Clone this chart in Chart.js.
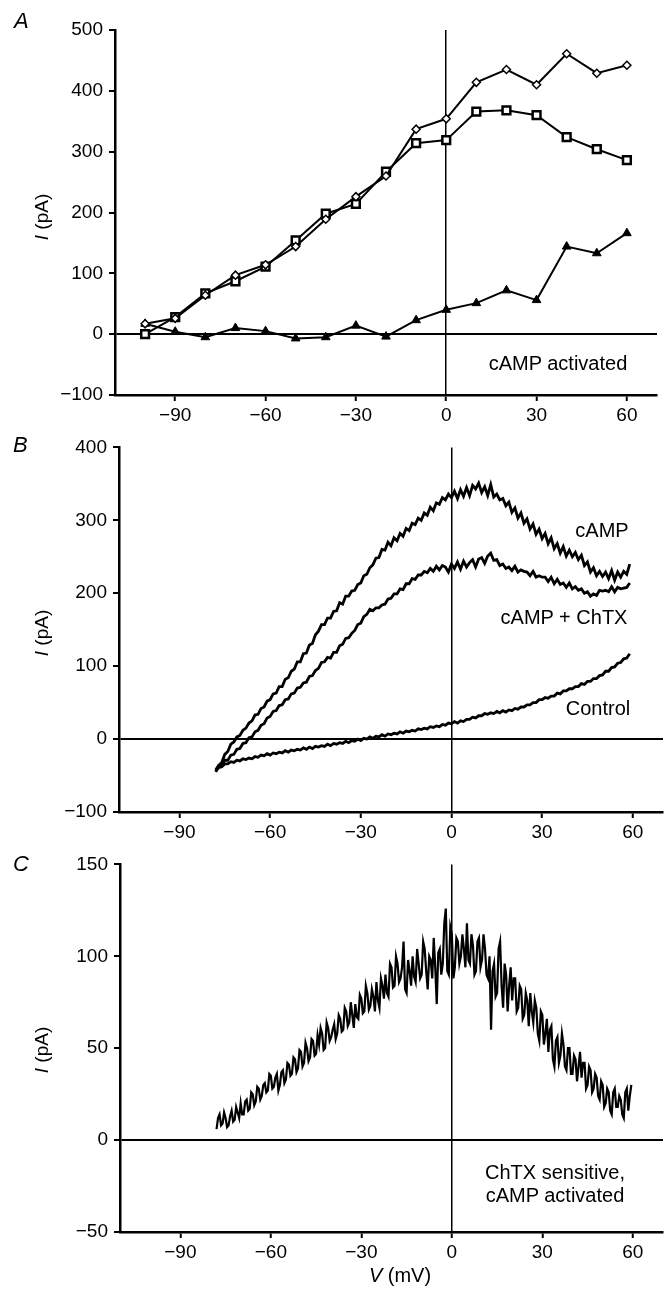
<!DOCTYPE html>
<html>
<head>
<meta charset="utf-8">
<script src="https://cdn.jsdelivr.net/npm/chart.js@4/dist/chart.umd.min.js"></script>
<style>
  body { margin: 0; background: #fff; }
  #fig { position: relative; width: 665px; height: 1290px; font-family: "Liberation Sans", Arial, sans-serif; color: #000; }
  canvas { position: absolute; left: 0; }
  .lbl { position: absolute; font-size: 20px; white-space: nowrap; transform: translate(-50%, -50%); }
  .panel { position: absolute; font-size: 22px; font-style: italic; }
  .ytitle { position: absolute; font-size: 19px; white-space: nowrap; transform: translate(-50%, -50%) rotate(-90deg); }
</style>
</head>
<body>
<div id="fig">
  <canvas id="chartA" width="665" height="430" style="top:0px"></canvas>
  <canvas id="chartB" width="665" height="417" style="top:430px"></canvas>
  <canvas id="chartC" width="665" height="443" style="top:847px"></canvas>

  <div class="panel" style="left:14px; top:8px">A</div>
  <div class="panel" style="left:13px; top:432px">B</div>
  <div class="panel" style="left:13px; top:851px">C</div>

  <div class="ytitle" style="left:42px; top:217px"><i>I</i> (pA)</div>
  <div class="ytitle" style="left:42px; top:633px"><i>I</i> (pA)</div>
  <div class="ytitle" style="left:42px; top:1050px"><i>I</i> (pA)</div>

  <div class="lbl" style="left:558px; top:363px">cAMP activated</div>
  <div class="lbl" style="left:602px; top:530px">cAMP</div>
  <div class="lbl" style="left:564px; top:617px">cAMP + ChTX</div>
  <div class="lbl" style="left:598px; top:708px">Control</div>
  <div class="lbl" style="left:555px; top:1172px">ChTX sensitive,</div>
  <div class="lbl" style="left:555px; top:1195px">cAMP activated</div>
  <div class="lbl" style="left:400px; top:1275px"><i>V</i> (mV)</div>
</div>

<script>
// panel A: step protocol, three series
var voltsA = [-100, -90, -80, -70, -60, -50, -40, -30, -20, -10, 0, 10, 20, 30, 40, 50, 60];
var iDiamond = [17, 26, 64, 97, 114, 144, 189, 226, 260, 337, 354, 414, 435, 410, 461, 429, 442];
var iSquare = [0, 28, 67, 87, 111, 154, 198, 214, 267, 314, 319, 366, 368, 360, 324, 304, 286];
var iTriangle = [17, 4, -5, 10, 5, -7, -5, 14, -4, 23, 40, 51, 72, 56, 144, 133, 166];

// panel B: ramp from -78 to 59 mV, 1 mV steps
var voltsB = [-78, -77, -76, -75, -74, -73, -72, -71, -70, -69,
  -68, -67, -66, -65, -64, -63, -62, -61, -60, -59,
  -58, -57, -56, -55, -54, -53, -52, -51, -50, -49,
  -48, -47, -46, -45, -44, -43, -42, -41, -40, -39,
  -38, -37, -36, -35, -34, -33, -32, -31, -30, -29,
  -28, -27, -26, -25, -24, -23, -22, -21, -20, -19,
  -18, -17, -16, -15, -14, -13, -12, -11, -10, -9,
  -8, -7, -6, -5, -4, -3, -2, -1, 0, 1,
  2, 3, 4, 5, 6, 7, 8, 9, 10, 11,
  12, 13, 14, 15, 16, 17, 18, 19, 20, 21,
  22, 23, 24, 25, 26, 27, 28, 29, 30, 31,
  32, 33, 34, 35, 36, 37, 38, 39, 40, 41,
  42, 43, 44, 45, 46, 47, 48, 49, 50, 51,
  52, 53, 54, 55, 56, 57, 58, 59];

var iCamp = [-45, -36, -32, -21, -17, -7, -4, 3, 5, 12,
  15, 22, 25, 33, 34, 42, 44, 52, 54, 62,
  63, 72, 72, 82, 84, 93, 96, 106, 106, 117,
  118, 129, 131, 143, 148, 157, 157, 166, 166, 175,
  176, 187, 185, 196, 196, 203, 204, 212, 214, 224,
  226, 235, 239, 248, 249, 260, 259, 270, 265, 276,
  272, 282, 278, 289, 286, 296, 294, 303, 300, 310,
  307, 318, 313, 324, 322, 331, 328, 336, 331, 340,
  330, 342, 333, 345, 334, 348, 343, 351, 338, 346,
  334, 349, 332, 336, 328, 330, 320, 325, 311, 317,
  303, 310, 296, 302, 288, 295, 281, 288, 275, 282,
  268, 276, 261, 268, 255, 264, 251, 259, 250, 256,
  246, 252, 238, 243, 229, 235, 224, 230, 223, 229,
  220, 231, 218, 229, 222, 230, 226, 240];

var iCampChtx = [-42, -36, -36, -29, -29, -22, -21, -14, -13, -6,
  -5, 2, 3, 10, 12, 19, 21, 29, 31, 38,
  39, 46, 47, 54, 55, 62, 63, 70, 71, 77,
  78, 86, 87, 94, 97, 105, 106, 112, 111, 119,
  119, 128, 130, 138, 139, 145, 149, 157, 159, 168,
  171, 178, 176, 180, 180, 184, 185, 192, 193, 199,
  199, 206, 205, 213, 213, 220, 219, 225, 225, 230,
  228, 234, 230, 237, 232, 238, 236, 229, 240, 234,
  243, 233, 244, 236, 242, 246, 236, 247, 249, 241,
  251, 255, 245, 246, 238, 240, 234, 236, 231, 237,
  229, 232, 230, 229, 224, 230, 222, 224, 222, 222,
  216, 222, 213, 219, 212, 214, 208, 214, 206, 209,
  204, 206, 200, 202, 196, 199, 197, 204, 203, 204,
  202, 209, 202, 208, 206, 207, 208, 214];

var iControl = [-44, -39, -38, -34, -34, -31, -32, -29, -30, -27,
  -28, -26, -27, -24, -25, -22, -23, -20, -22, -19,
  -20, -18, -19, -16, -18, -15, -16, -14, -15, -12,
  -14, -11, -13, -10, -11, -9, -10, -7, -9, -6,
  -7, -5, -6, -3, -5, -2, -3, 0, -2, 1,
  0, 3, 1, 4, 3, 6, 4, 7, 6, 8,
  7, 10, 8, 11, 10, 12, 11, 14, 13, 15,
  14, 17, 16, 18, 17, 20, 19, 22, 21, 24,
  22, 25, 24, 27, 27, 30, 29, 32, 32, 35,
  34, 36, 35, 38, 36, 39, 37, 40, 39, 42,
  41, 44, 44, 47, 47, 50, 50, 54, 54, 57,
  56, 59, 59, 63, 62, 66, 66, 69, 69, 72,
  72, 76, 75, 79, 79, 83, 83, 87, 88, 93,
  93, 98, 99, 104, 105, 110, 111, 117];

// panel C: difference trace, 0.5 mV steps
var voltsC = [-78, -77.5, -77, -76.5, -76, -75.5, -75, -74.5, -74, -73.5,
  -73, -72.5, -72, -71.5, -71, -70.5, -70, -69.5, -69, -68.5,
  -68, -67.5, -67, -66.5, -66, -65.5, -65, -64.5, -64, -63.5,
  -63, -62.5, -62, -61.5, -61, -60.5, -60, -59.5, -59, -58.5,
  -58, -57.5, -57, -56.5, -56, -55.5, -55, -54.5, -54, -53.5,
  -53, -52.5, -52, -51.5, -51, -50.5, -50, -49.5, -49, -48.5,
  -48, -47.5, -47, -46.5, -46, -45.5, -45, -44.5, -44, -43.5,
  -43, -42.5, -42, -41.5, -41, -40.5, -40, -39.5, -39, -38.5,
  -38, -37.5, -37, -36.5, -36, -35.5, -35, -34.5, -34, -33.5,
  -33, -32.5, -32, -31.5, -31, -30.5, -30, -29.5, -29, -28.5,
  -28, -27.5, -27, -26.5, -26, -25.5, -25, -24.5, -24, -23.5,
  -23, -22.5, -22, -21.5, -21, -20.5, -20, -19.5, -19, -18.5,
  -18, -17.5, -17, -16.5, -16, -15.5, -15, -14.5, -14, -13.5,
  -13, -12.5, -12, -11.5, -11, -10.5, -10, -9.5, -9, -8.5,
  -8, -7.5, -7, -6.5, -6, -5.5, -5, -4.5, -4, -3.5,
  -3, -2.5, -2, -1.5, -1, -0.5, 0, 0.5, 1, 1.5,
  2, 2.5, 3, 3.5, 4, 4.5, 5, 5.5, 6, 6.5,
  7, 7.5, 8, 8.5, 9, 9.5, 10, 10.5, 11, 11.5,
  12, 12.5, 13, 13.5, 14, 14.5, 15, 15.5, 16, 16.5,
  17, 17.5, 18, 18.5, 19, 19.5, 20, 20.5, 21, 21.5,
  22, 22.5, 23, 23.5, 24, 24.5, 25, 25.5, 26, 26.5,
  27, 27.5, 28, 28.5, 29, 29.5, 30, 30.5, 31, 31.5,
  32, 32.5, 33, 33.5, 34, 34.5, 35, 35.5, 36, 36.5,
  37, 37.5, 38, 38.5, 39, 39.5, 40, 40.5, 41, 41.5,
  42, 42.5, 43, 43.5, 44, 44.5, 45, 45.5, 46, 46.5,
  47, 47.5, 48, 48.5, 49, 49.5, 50, 50.5, 51, 51.5,
  52, 52.5, 53, 53.5, 54, 54.5, 55, 55.5, 56, 56.5,
  57, 57.5, 58, 58.5, 59, 59.5];

var iChtxSensitive = [6, 12, 14, 8, 9, 15, 12, 7, 8, 13,
  16, 10, 11, 18, 15, 12, 20, 14, 14, 21,
  22, 16, 17, 26, 25, 19, 21, 29, 28, 22,
  24, 30, 31, 26, 27, 36, 35, 28, 29, 34,
  36, 27, 30, 37, 38, 31, 33, 42, 41, 35,
  36, 45, 44, 37, 39, 49, 48, 40, 42, 53,
  50, 43, 45, 55, 54, 46, 47, 57, 52, 61,
  58, 49, 50, 64, 61, 54, 56, 60, 63, 55,
  58, 68, 66, 59, 60, 72, 70, 62, 64, 75,
  68, 61, 74, 67, 66, 79, 77, 69, 70, 84,
  80, 71, 73, 82, 78, 70, 86, 76, 72, 88,
  84, 77, 90, 80, 78, 96, 94, 83, 84, 100,
  96, 86, 88, 94, 108, 82, 80, 98, 92, 84,
  100, 89, 86, 104, 96, 88, 90, 108, 104, 92,
  82, 100, 98, 88, 110, 94, 74, 102, 104, 90,
  96, 118, 126, 92, 90, 116, 112, 88, 94, 110,
  108, 96, 100, 112, 104, 94, 118, 98, 96, 112,
  106, 90, 92, 108, 110, 94, 98, 112, 104, 90,
  88, 100, 60, 92, 96, 78, 80, 104, 108, 84,
  72, 96, 90, 70, 84, 94, 76, 88, 88, 70,
  72, 84, 82, 66, 68, 80, 76, 62, 80, 70,
  64, 76, 72, 58, 54, 70, 68, 52, 58, 66,
  48, 60, 62, 44, 40, 54, 56, 42, 46, 58,
  52, 40, 38, 50, 50, 36, 36, 46, 44, 32,
  40, 48, 34, 42, 42, 28, 30, 40, 38, 26,
  28, 36, 34, 24, 22, 32, 30, 18, 20, 28,
  26, 16, 14, 26, 28, 18, 18, 24, 22, 14,
  12, 26, 28, 16, 24, 30];

var xTicks = [-90, -60, -30, 0, 30, 60];
var yTicksA = [-100, 0, 100, 200, 300, 400, 500];
var yTicksB = [-100, 0, 100, 200, 300, 400];
var yTicksC = [-50, 0, 50, 100, 150];

function toPoints(xs, ys) {
  var out = [];
  for (var i = 0; i < xs.length; i++) {
    out.push({ x: xs[i], y: ys[i] });
  }
  return out;
}

function fmt(v) {
  return v < 0 ? '\u2212' + Math.abs(v) : '' + v;
}

// only the zero value gets a visible line across the plot
function zeroColor(ctx) {
  return ctx.tick && ctx.tick.value === 0 ? '#000' : 'rgba(0,0,0,0)';
}

var tickFont = { family: '"Liberation Sans", Arial, sans-serif', size: 19 };

function makePanel(id, datasets, cfg) {
  var ctx = document.getElementById(id).getContext('2d');
  return new Chart(ctx, {
    type: 'scatter',
    data: { datasets: datasets },
    options: {
      responsive: false,
      animation: false,
      events: [],
      layout: { padding: { left: 0, top: cfg.top, right: cfg.right, bottom: 0 } },
      plugins: { legend: { display: false }, tooltip: { enabled: false } },
      scales: {
        x: {
          type: 'linear',
          min: -110,
          max: 70,
          afterBuildTicks: function(scale) {
            scale.ticks = xTicks.map(function(v) { return { value: v }; });
          },
          afterFit: function(scale) { scale.height = cfg.xHeight; },
          border: { color: '#000', width: 2.5 },
          grid: { color: zeroColor, lineWidth: 1.5, tickColor: '#000', tickWidth: 2, tickLength: 6 },
          ticks: { color: '#000', font: tickFont, padding: 3, maxRotation: 0, autoSkip: false, callback: fmt }
        },
        y: {
          type: 'linear',
          min: cfg.yTicks[0],
          max: cfg.yTicks[cfg.yTicks.length - 1],
          afterBuildTicks: function(scale) {
            scale.ticks = cfg.yTicks.map(function(v) { return { value: v }; });
          },
          afterFit: function(scale) { scale.width = cfg.left; },
          border: { color: '#000', width: 2.5 },
          grid: { color: zeroColor, lineWidth: 2, tickColor: '#000', tickWidth: 2, tickLength: 6 },
          ticks: { color: '#000', font: tickFont, padding: 6, autoSkip: false, callback: fmt }
        }
      }
    }
  });
}

var lineBase = { showLine: true, borderColor: '#000', tension: 0, pointRadius: 0 };

makePanel('chartA', [
  Object.assign({}, lineBase, {
    data: toPoints(voltsA, iDiamond), borderWidth: 2,
    pointStyle: 'rectRot', pointRadius: 4, pointBackgroundColor: '#fff',
    pointBorderColor: '#000', pointBorderWidth: 1.5
  }),
  Object.assign({}, lineBase, {
    data: toPoints(voltsA, iSquare), borderWidth: 2,
    pointStyle: 'rect', pointRadius: 5.5, pointBackgroundColor: '#fff',
    pointBorderColor: '#000', pointBorderWidth: 2.5
  }),
  Object.assign({}, lineBase, {
    data: toPoints(voltsA, iTriangle), borderWidth: 2,
    pointStyle: 'triangle', pointRadius: 5, pointBackgroundColor: '#000',
    pointBorderColor: '#000', pointBorderWidth: 1
  })
], { left: 115, top: 30, right: 7, xHeight: 35, yTicks: yTicksA });

makePanel('chartB', [
  Object.assign({}, lineBase, { data: toPoints(voltsB, iCamp), borderWidth: 2.8 }),
  Object.assign({}, lineBase, { data: toPoints(voltsB, iCampChtx), borderWidth: 2.8 }),
  Object.assign({}, lineBase, { data: toPoints(voltsB, iControl), borderWidth: 2.8 })
], { left: 119, top: 15, right: 2, xHeight: 35, yTicks: yTicksB });

makePanel('chartC', [
  Object.assign({}, lineBase, { data: toPoints(voltsC, iChtxSensitive), borderWidth: 2.2 })
], { left: 120, top: 15, right: 2, xHeight: 58, yTicks: yTicksC });
</script>
</body>
</html>
